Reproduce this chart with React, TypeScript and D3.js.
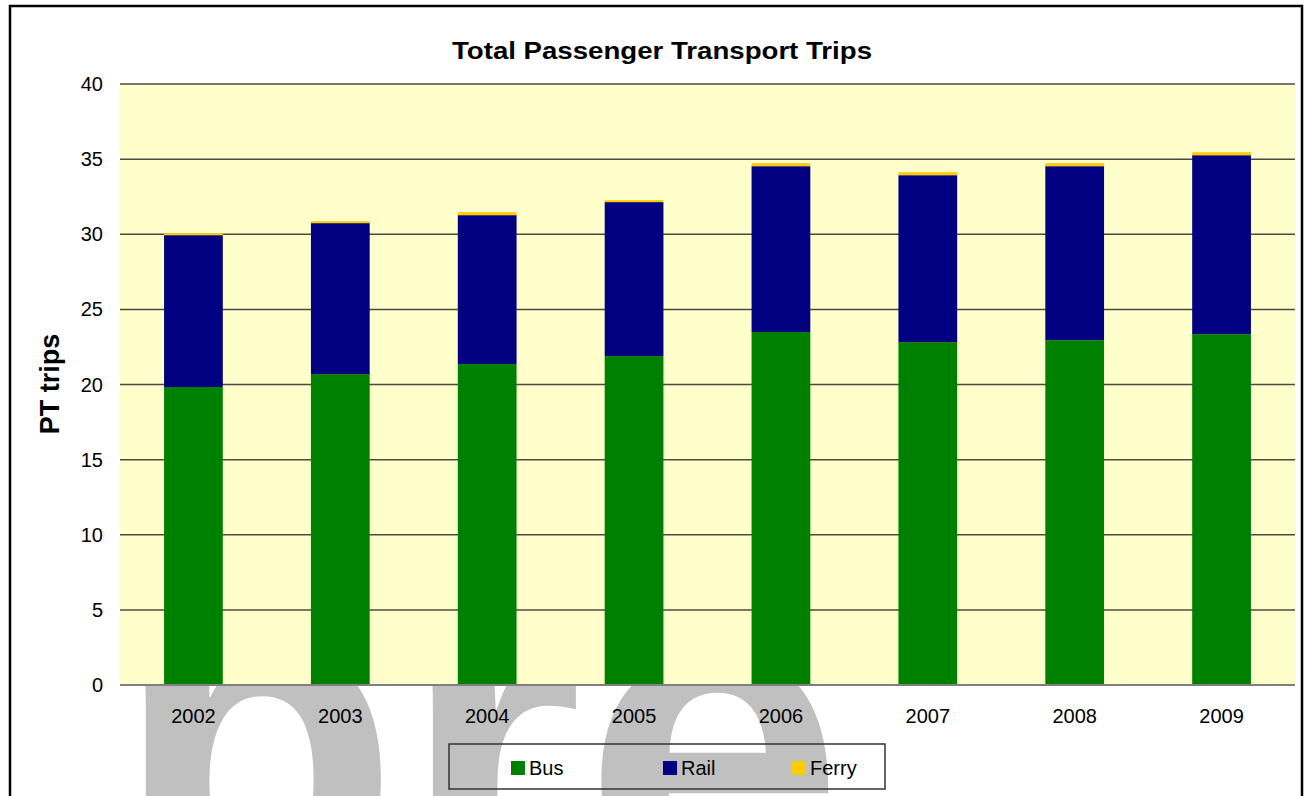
import React from 'react';
import * as d3 from 'd3';

const years = ['2002', '2003', '2004', '2005', '2006', '2007', '2008', '2009'];
const bus = [19.83, 20.69, 21.36, 21.89, 23.49, 22.82, 22.95, 23.35];
const rail = [10.11, 10.05, 9.91, 10.25, 11.04, 11.11, 11.58, 11.91];
const ferry = [0.13, 0.13, 0.2, 0.13, 0.2, 0.2, 0.2, 0.2];
const yTicks = [0, 5, 10, 15, 20, 25, 30, 35, 40];
const seriesNames = ['Bus', 'Rail', 'Ferry'];
const seriesColors = ['#008000', '#000080', '#FFCC00'];

const W = 1307;
const H = 796;
const plot = { left: 120, right: 1295, top: 84, bottom: 685 };
const font = 'Arial, "Liberation Sans", sans-serif';

export default function App() {
  const x = d3.scaleBand().domain(years).range([plot.left, plot.right]).paddingInner(0.6).paddingOuter(0.3);
  const y = d3.scaleLinear().domain([0, 40]).range([plot.bottom, plot.top]);

  const rows = years.map((yr, i) => ({ year: yr, Bus: bus[i], Rail: rail[i], Ferry: ferry[i] }));
  const stacked = d3.stack<any>().keys(seriesNames)(rows);

  const legendX = [511, 663, 792];

  return (
    <svg width={W} height={H} style={{ position: 'absolute', left: 0, top: 0, display: 'block' }}>
      <rect x={0} y={0} width={W} height={H} fill="#fff" />
      {/* watermark behind the chart, only its first letters show */}
      <text x={113} y={905} fontFamily={font} fontWeight="bold" fontSize={470} fill="#c0c0c0">
        pre
      </text>
      <rect x={10} y={6} width={1292} height={H} fill="none" stroke="#000" strokeWidth={2.5} />

      <text x={662} y={59} textAnchor="middle" fontFamily={font} fontWeight="bold" fontSize={23}
        textLength={420} lengthAdjust="spacingAndGlyphs">
        Total Passenger Transport Trips
      </text>

      <rect x={plot.left} y={plot.top} width={plot.right - plot.left} height={plot.bottom - plot.top} fill="#FFFFCC" />
      {yTicks.filter(t => t > 0).map(t => (
        <line key={t} x1={plot.left} x2={plot.right} y1={y(t)} y2={y(t)} stroke="#4a4a40" strokeWidth={1.5} />
      ))}

      {stacked.map((s, si) => (
        <g key={s.key} fill={seriesColors[si]}>
          {s.map((d, i) => (
            <rect key={i} x={x(years[i])} width={x.bandwidth()} y={y(d[1])} height={y(d[0]) - y(d[1])} />
          ))}
        </g>
      ))}

      <line x1={plot.left} x2={plot.right} y1={y(0)} y2={y(0)} stroke="#808080" strokeWidth={2} />

      {yTicks.map(t => (
        <text key={t} x={103} y={y(t)} dy="0.35em" textAnchor="end" fontFamily={font} fontSize={20} fill="#000">
          {t}
        </text>
      ))}
      {years.map(yr => (
        <text key={yr} x={(x(yr) as number) + x.bandwidth() / 2} y={723} textAnchor="middle" fontFamily={font} fontSize={20} fill="#000">
          {yr}
        </text>
      ))}

      <text transform="translate(59,384) rotate(-90)" textAnchor="middle" fontFamily={font} fontWeight="bold" fontSize={27}>
        PT trips
      </text>

      <rect x={449} y={744} width={436} height={45} fill="none" stroke="#333" strokeWidth={1.5} />
      {seriesNames.map((n, i) => (
        <g key={n}>
          <rect x={legendX[i]} y={761} width={14} height={14} fill={seriesColors[i]} />
          <text x={legendX[i] + 18} y={775} fontFamily={font} fontSize={20} fill="#000">{n}</text>
        </g>
      ))}
    </svg>
  );
}
